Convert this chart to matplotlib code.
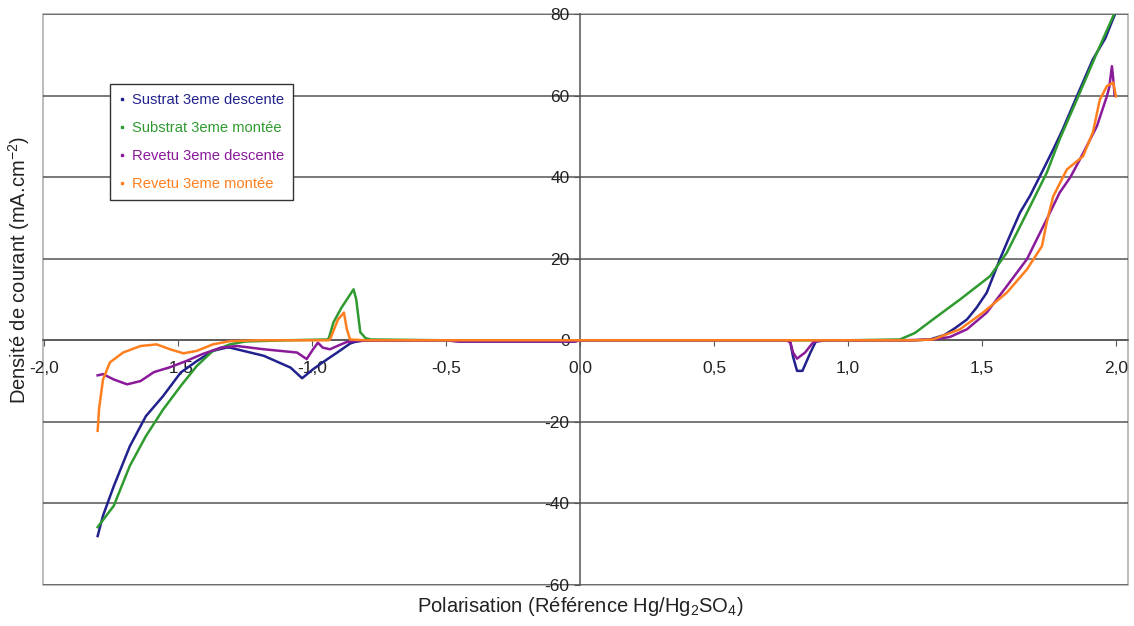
import matplotlib
matplotlib.use("Agg")
import matplotlib.pyplot as plt
from matplotlib.lines import Line2D
from matplotlib.ticker import FuncFormatter, MultipleLocator

plt.rcParams['font.family'] = ['Liberation Sans', 'DejaVu Sans']
plt.rcParams['axes.unicode_minus'] = False
plt.rcParams['mathtext.default'] = 'regular'

# Sustrat 3eme descente (balayage de 2.0 vers -1.8)
sd_x = [1.996, 1.96, 1.914, 1.854, 1.80, 1.766, 1.716, 1.68, 1.642, 1.60, 1.567, 1.518, 1.48,
        1.444, 1.40, 1.36, 1.306, 1.25, 1.0, 0.92, 0.88, 0.86, 0.83, 0.81, 0.795, 0.785, 0.78,
        0.63, 0.3, 0.0, -0.02, -0.45, -0.5, -0.8, -0.84, -0.858, -0.906, -0.96, -0.996, -1.037,
        -1.08, -1.18, -1.306, -1.32, -1.37, -1.43, -1.49, -1.556, -1.62, -1.68, -1.74, -1.78, -1.80]
sd_y = [79.9, 74.0, 68.9, 59.8, 51.5, 46.8, 40.2, 35.5, 31.3, 25.0, 19.9, 11.7, 8.0,
        5.1, 3.0, 1.3, 0.2, 0.0, 0.0, 0.0, -0.3, -3.0, -7.5, -7.5, -4.0, -0.5, 0.0,
        0.0, 0.0, 0.0, -0.3, -0.3, 0.0, 0.0, -0.4, -0.8, -3.0, -5.4, -7.1, -9.3,
        -6.7, -3.8, -1.8, -1.8, -2.6, -5.1, -7.9, -13.7, -18.6, -26.0, -35.8, -43.0, -48.0]

# Substrat 3eme montee (balayage de -1.8 vers 2.0)
sm_x = [-1.80, -1.74, -1.68, -1.62, -1.556, -1.49, -1.43, -1.37, -1.306, -1.25, -1.1, -0.94,
        -0.935, -0.92, -0.89, -0.86, -0.845, -0.835, -0.82, -0.80, -0.78, -0.5, 0.0, 0.5, 1.0,
        1.194, 1.25, 1.317, 1.418, 1.53, 1.593, 1.668, 1.742, 1.79, 1.854, 1.929, 1.996]
sm_y = [-45.8, -40.6, -30.8, -23.5, -17.0, -11.2, -6.3, -2.6, -1.0, -0.3, 0.0, 0.2,
        1.0, 4.4, 8.0, 11.0, 12.5, 10.0, 2.0, 0.5, 0.2, 0.0, 0.0, 0.0, 0.0,
        0.2, 1.8, 5.1, 10.0, 15.7, 21.5, 31.3, 41.1, 49.3, 59.0, 70.5, 80.4]

# Revetu 3eme descente
rd_x = [1.995, 1.99, 1.985, 1.975, 1.966, 1.929, 1.866, 1.83, 1.79, 1.742, 1.668, 1.593, 1.518,
        1.444, 1.38, 1.317, 1.2, 0.9, 0.87, 0.84, 0.81, 0.795, 0.785, 0.77, 0.63, 0.6, 0.0,
        -0.02, -0.45, -0.5, -0.83, -0.87, -0.906, -0.933, -0.96, -0.978, -0.996, -1.02, -1.056,
        -1.18, -1.28, -1.34, -1.41, -1.47, -1.53, -1.59, -1.64, -1.69, -1.74, -1.78, -1.80]
rd_y = [60.0, 64.0, 67.2, 62.0, 59.8, 52.5, 44.4, 40.0, 36.2, 29.7, 19.9, 13.3, 6.8,
        2.7, 0.8, 0.2, 0.0, 0.0, -0.5, -3.0, -4.5, -3.0, -0.5, 0.0, 0.0, 0.0, 0.0,
        -0.3, -0.3, 0.0, -0.1, -0.4, -1.4, -2.2, -1.8, -0.6, -2.2, -4.6, -3.0,
        -2.2, -1.4, -1.8, -3.4, -5.1, -6.6, -7.8, -10.0, -10.8, -9.6, -8.3, -8.6]

# Revetu 3eme montee
rm_x = [-1.80, -1.795, -1.79, -1.78, -1.754, -1.705, -1.64, -1.58, -1.53, -1.48, -1.43, -1.37,
        -1.306, -1.2, -0.94, -0.933, -0.903, -0.881, -0.87, -0.858, -0.8, 0.0, 1.0, 1.25,
        1.317, 1.418, 1.504, 1.593, 1.668, 1.724, 1.742, 1.766, 1.817, 1.877, 1.914, 1.94,
        1.966, 1.99, 2.0]
rm_y = [-22.2, -17.0, -14.5, -9.6, -5.4, -3.0, -1.4, -1.0, -2.2, -3.2, -2.6, -1.0,
        -0.2, 0.0, 0.0, 0.2, 5.1, 6.8, 2.7, 0.2, 0.0, 0.0, 0.0, 0.0,
        0.2, 2.7, 6.8, 11.7, 17.4, 23.1, 29.0, 35.3, 41.9, 45.1, 51.0, 59.0,
        62.3, 63.2, 59.8]

labels = ['Sustrat 3eme descente', 'Substrat 3eme montée',
          'Revetu 3eme descente', 'Revetu 3eme montée']
colors = ['#22228e', '#2f9a2f', '#8a1a9a', '#ff7f1e']
series = [(sd_x, sd_y), (sm_x, sm_y), (rd_x, rd_y), (rm_x, rm_y)]

fig = plt.figure(figsize=(11.34, 6.26), dpi=100)
ax = fig.add_axes([0.0379, 0.0655, 0.9568, 0.9121])

for (xs, ys), c in zip(series, colors):
    ax.plot(xs, ys, color=c, lw=1.8, zorder=3)

ax.set_xlim(-2.004, 2.045)
ax.set_ylim(-60, 80)
ax.yaxis.set_major_locator(MultipleLocator(20))
ax.xaxis.set_major_locator(MultipleLocator(0.5))
ax.xaxis.set_major_formatter(FuncFormatter(lambda v, p: f'{v:.1f}'.replace('.', ',')))
ax.yaxis.set_major_formatter(FuncFormatter(lambda v, p: f'{v:.0f}'))

ax.grid(axis='y', color='#555555', lw=1.1, zorder=1)
ax.patch.set_edgecolor('#b0b0b0')
ax.patch.set_linewidth(1.2)
ax.spines['left'].set_position(('data', 0))
ax.spines['bottom'].set_position(('data', 0))
ax.spines['top'].set_visible(False)
ax.spines['right'].set_visible(False)
for s in ('left', 'bottom'):
    ax.spines[s].set_color('#555555')
    ax.spines[s].set_linewidth(1.1)
ax.tick_params(axis='both', direction='out', length=4, color='#555555',
               labelsize=12.5, labelcolor='#222222')
ax.tick_params(axis='x', pad=11)

fig.text(580 / 1134, 1 - 607 / 626, r'Polarisation (Référence Hg/Hg$_2$SO$_4$)',
         ha='center', va='center', fontsize=14.5, color='#222222')
fig.text(19 / 1134, 1 - 270 / 626, r'Densité de courant (mA.cm$^{-2}$)',
         ha='center', va='center', rotation=90, fontsize=14.5, color='#222222')

handles = [Line2D([], [], color=c, marker='s', markersize=2, linestyle='None') for c in colors]
leg = ax.legend(handles, labels, loc='upper left', bbox_to_anchor=(110 / 1134, 1 - 84 / 626),
                bbox_transform=fig.transFigure, borderaxespad=0, fontsize=10.6,
                labelcolor=colors, frameon=True, fancybox=False, framealpha=1,
                edgecolor='#333333', handlelength=0.4, handletextpad=0.5,
                labelspacing=0.95, borderpad=0.6)
leg.get_frame().set_linewidth(1.0)
leg.set_zorder(5)

fig.savefig('out.png', dpi=100)
